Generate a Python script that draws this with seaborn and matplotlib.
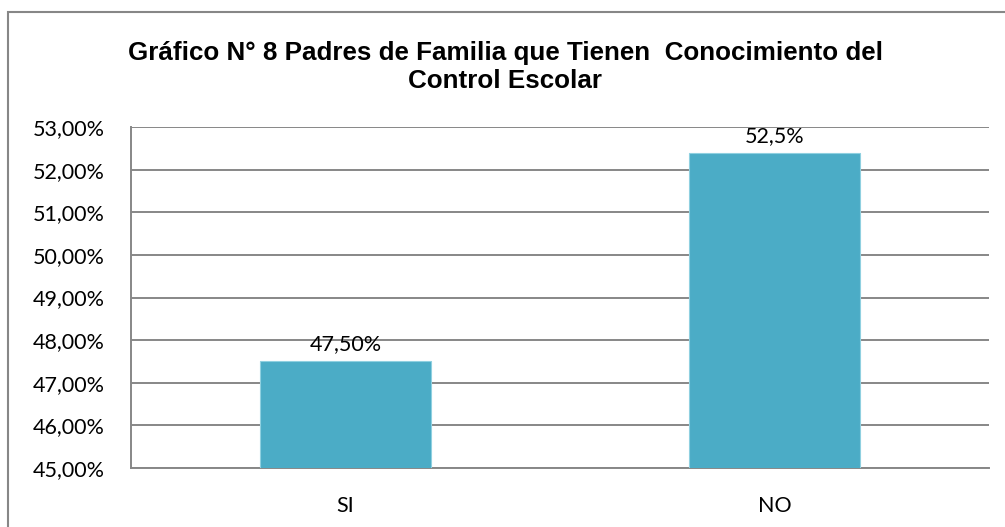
import matplotlib
matplotlib.use('Agg')
import matplotlib.pyplot as plt
import matplotlib.patches as mpatches
import seaborn as sns
import pandas as pd

# datos del gráfico
categorias = ['SI', 'NO']
porcentajes = [47.5, 52.4]
etiquetas = ['47,50%', '52,5%']
ticks_y = [45, 46, 47, 48, 49, 50, 51, 52, 53]

titulo = 'Gráfico N° 8 Padres de Familia que Tienen  Conocimiento del\nControl Escolar'

sns.set_style('white')
plt.rcParams['font.family'] = ['Lato', 'DejaVu Sans']

df = pd.DataFrame({'respuesta': categorias, 'porcentaje': porcentajes})

fig = plt.figure(figsize=(10.05, 5.27), dpi=100)
ax = fig.add_axes([131 / 1005, 1 - 468 / 527, (989 - 131) / 1005, (468 - 127) / 527])

sns.barplot(data=df, x='respuesta', y='porcentaje', color='#4BACC6', saturation=1,
            width=0.4, edgecolor='#8fd0e0', linewidth=0.8, ax=ax, zorder=3)

ax.set_ylim(45, 53)
ax.set_yticks(ticks_y)
ax.set_yticklabels([f'{v:.2f}'.replace('.', ',') + '%' for v in ticks_y], fontsize=15.5)
ax.set_xlim(-0.5, 1.5)
ax.tick_params(axis='y', length=0, pad=19, colors='black')
ax.tick_params(axis='x', length=0, pad=20, labelsize=15.5, colors='black')
ax.set_xlabel('')
ax.set_ylabel('')

ax.grid(axis='y', color='#878787', linewidth=1.4, zorder=0)
ax.set_axisbelow(True)
for lado in ['top', 'right']:
    ax.spines[lado].set_visible(False)
for lado in ['left', 'bottom']:
    ax.spines[lado].set_color('#878787')
    ax.spines[lado].set_linewidth(1.4)

ax.bar_label(ax.containers[0], labels=etiquetas, padding=5, fontsize=15.5, color='black')

fig.text(0.5025, 1 - 67 / 527, titulo, ha='center', va='center', fontsize=18.7,
         fontweight='bold', family=['Liberation Sans', 'DejaVu Sans'], linespacing=1.22,
         color='black')

# marco exterior del gráfico
marco = mpatches.Rectangle((8 / 1005, -0.05), 1.1, 1 - 12 / 527 + 0.05, transform=fig.transFigure,
                           fill=False, edgecolor='#878787', linewidth=1.5, clip_on=False)
fig.patches.append(marco)

fig.savefig('out.png', dpi=100)
